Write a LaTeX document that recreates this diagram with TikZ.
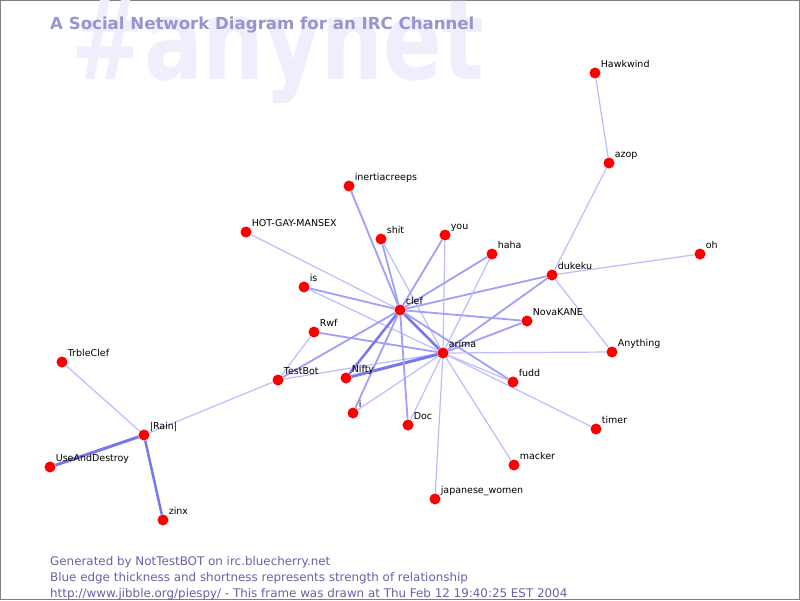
\documentclass[tikz,border=0pt]{standalone}
\usepackage{fontspec}
\usepackage{graphicx}
\setmainfont{DejaVu Sans}
\definecolor{nodered}{rgb}{1,0,0}
\definecolor{ethin}{RGB}{188,188,255}
\definecolor{emed}{RGB}{160,160,250}
\definecolor{ethick}{RGB}{120,120,238}
\definecolor{titlecol}{RGB}{150,150,205}
\definecolor{wmcol}{RGB}{238,238,252}
\definecolor{footcol}{RGB}{100,100,165}
\pgfdeclarelayer{bg}
\pgfsetlayers{bg,main}
\begin{document}
\begin{tikzpicture}[x=1pt,y=-1pt,
  person/.style={circle, fill=nodered, minimum size=11pt, inner sep=0pt},
  lbl/.style={font=\fontsize{9.5}{10}\selectfont, anchor=base west, inner sep=0pt, xshift=1.6pt, yshift=1.6pt, text=black},
  et/.style={draw=ethin, line width=1.2pt},
  em/.style={draw=emed, line width=1.8pt},
  ek/.style={draw=ethick, line width=2.5pt},
  ex/.style={draw=ethick, line width=3pt},
  foot/.style={anchor=base west, inner sep=0pt, text=footcol, font=\fontsize{11.9}{13}\selectfont}]
\useasboundingbox (0,0) rectangle (800,600);

\node[person, label={[lbl, label distance=0pt]45:Hawkwind}] (hawk) at (595,73) {};
\node[person, label={[lbl, label distance=0pt]45:azop}] (azop) at (609,163) {};
\node[person, label={[lbl, label distance=0pt]45:inertiacreeps}] (inertia) at (349,186) {};
\node[person, label={[lbl, label distance=0pt]45:HOT-GAY-MANSEX}] (hot) at (246,232) {};
\node[person, label={[lbl, label distance=0pt]45:shit}] (shit) at (381,239) {};
\node[person, label={[lbl, label distance=0pt]45:you}] (you) at (445,235) {};
\node[person, label={[lbl, label distance=0pt]45:haha}] (haha) at (492,254) {};
\node[person, label={[lbl, label distance=0pt]45:oh}] (oh) at (700,254) {};
\node[person, label={[lbl, label distance=0pt]45:dukeku}] (dukeku) at (552,275) {};
\node[person, label={[lbl, label distance=0pt]45:is}] (is) at (304,287) {};
\node[person, label={[lbl, label distance=0pt]45:clef}] (clef) at (400,310) {};
\node[person, label={[lbl, label distance=0pt]45:NovaKANE}] (nova) at (527,321) {};
\node[person, label={[lbl, label distance=0pt]45:Rwf}] (rwf) at (314,332) {};
\node[person, label={[lbl, label distance=0pt]45:arima}] (arima) at (443,353) {};
\node[person, label={[lbl, label distance=0pt]45:Anything}] (anything) at (612,352) {};
\node[person, label={[lbl, label distance=0pt]45:TrbleClef}] (trble) at (62,362) {};
\node[person, label={[lbl, label distance=0pt]45:Nifty}] (nifty) at (346,378) {};
\node[person, label={[lbl, label distance=0pt]45:TestBot}] (testbot) at (278,380) {};
\node[person, label={[lbl, label distance=0pt]45:fudd}] (fudd) at (513,382) {};
\node[person, label={[lbl, label distance=0pt]45:i}] (i) at (353,413) {};
\node[person, label={[lbl, label distance=0pt]45:Doc}] (doc) at (408,425) {};
\node[person, label={[lbl, label distance=0pt]45:timer}] (timer) at (596,429) {};
\node[person, label={[lbl, label distance=0pt]45:|Rain|}] (rain) at (144,435) {};
\node[person, label={[lbl, label distance=0pt]45:macker}] (macker) at (514,465) {};
\node[person, label={[lbl, label distance=0pt]45:UseAndDestroy}] (use) at (50,467) {};
\node[person, label={[lbl, label distance=0pt]45:japanese\_women}] (jap) at (435,499) {};
\node[person, label={[lbl, label distance=0pt]45:zinx}] (zinx) at (163,520) {};

\node[anchor=base west, inner sep=0pt, text=titlecol, font=\fontsize{16.6}{18}\selectfont\bfseries] (title) at (50,29) {A Social Network Diagram for an IRC Channel};

\node[foot] (f1) at (50,565) {Generated by NotTestBOT on irc.bluecherry.net};
\node[foot] (f2) at (50,581) {Blue edge thickness and shortness represents strength of relationship};
\node[foot] (f3) at (50,597) {http://www.jibble.org/piespy/ - This frame was drawn at Thu Feb 12 19:40:25 EST 2004};

\begin{pgfonlayer}{bg}
\fill[white] (0,0) rectangle (800,600);
\draw[gray, line width=1pt] (0.5,0.5) rectangle (799.5,599.5);
\node[anchor=base west, inner sep=0pt, text=wmcol, font=\fontsize{87}{87}\selectfont\bfseries] (wm) at (71,79) {\scalebox{1}[1.28]{\#anynet}};
\draw[et] (hawk) -- (azop);
\draw[et] (azop) -- (dukeku);
\draw[et] (dukeku) -- (oh);
\draw[et] (dukeku) -- (anything);
\draw[em] (dukeku) -- (clef);
\draw[em] (dukeku) -- (arima);
\draw[em] (inertia) -- (clef);
\draw[et] (hot) -- (clef);
\draw[em] (shit) -- (clef);
\draw[et] (shit) -- (arima);
\draw[em] (you) -- (clef);
\draw[et] (you) -- (arima);
\draw[em] (haha) -- (clef);
\draw[et] (haha) -- (arima);
\draw[em] (is) -- (clef);
\draw[et] (is) -- (arima);
\draw[em] (clef) -- (nova);
\draw[em] (nova) -- (arima);
\draw[em] (rwf) -- (arima);
\draw[et] (rwf) -- (testbot);
\draw[em] (testbot) -- (clef);
\draw[et] (testbot) -- (arima);
\draw[et] (testbot) -- (rain);
\draw[ek] (clef) -- (arima);
\draw[ek] (nifty) -- (clef);
\draw[ex] (nifty) -- (arima);
\draw[em] (i) -- (clef);
\draw[et] (i) -- (arima);
\draw[em] (doc) -- (clef);
\draw[et] (doc) -- (arima);
\draw[em] (fudd) -- (clef);
\draw[et] (fudd) -- (arima);
\draw[et] (arima) -- (anything);
\draw[et] (arima) -- (timer);
\draw[et] (arima) -- (macker);
\draw[et] (arima) -- (jap);
\draw[et] (rain) -- (trble);
\draw[ex] (rain) -- (use);
\draw[ek] (rain) -- (zinx);
\end{pgfonlayer}
\end{tikzpicture}
\end{document}
